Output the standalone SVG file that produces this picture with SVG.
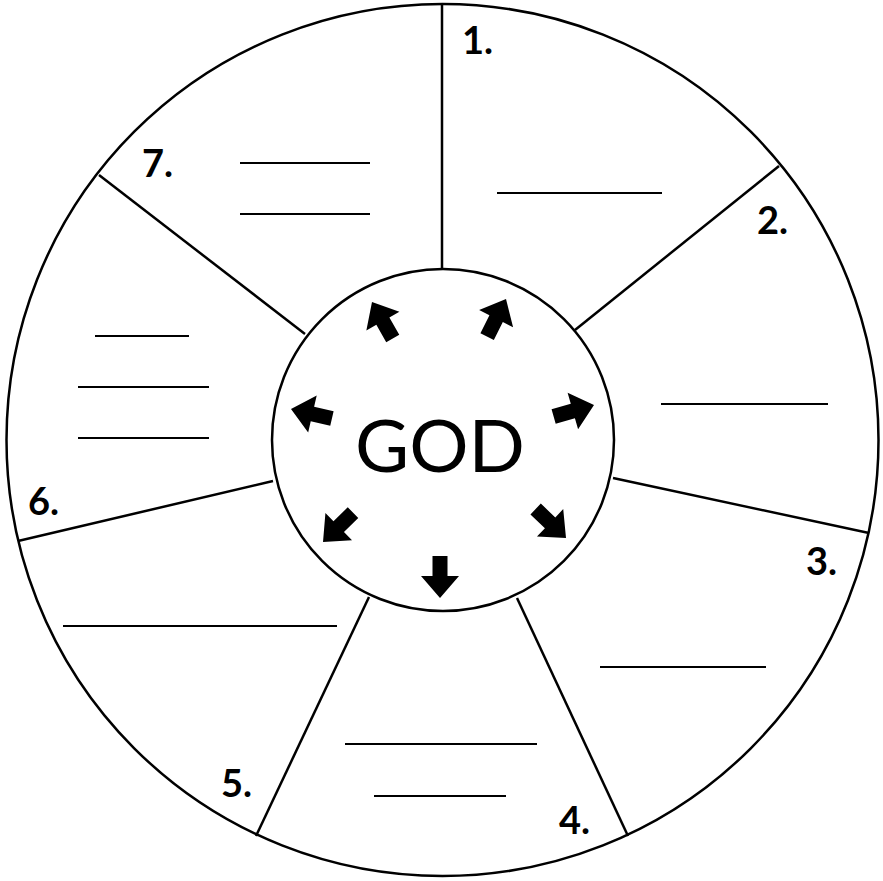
<svg xmlns="http://www.w3.org/2000/svg" width="883" height="881" viewBox="0 0 883 881">
<style>
.ln{stroke:#000;stroke-width:2.5;fill:none}
.bl{stroke:#000;stroke-width:2;fill:none}
.num{font-family:"Lato","Liberation Sans",sans-serif;font-weight:bold;font-size:38px;fill:#000}
.god{font-family:"Lato","Liberation Sans",sans-serif;font-size:72px;fill:#000}
</style>
<defs>
<path id="arr" d="M0,0 L19,22 L7.5,22 L7.5,42 L-7.5,42 L-7.5,22 L-19,22 Z" fill="#000"/>
</defs>
<rect width="883" height="881" fill="#fff"/>
<g id="connectors">
<line class="ln" x1="442" y1="4" x2="442" y2="269"/>
<line class="ln" x1="575" y1="330" x2="779" y2="166"/>
<line class="ln" x1="613" y1="478" x2="869" y2="533"/>
<line class="ln" x1="517" y1="598" x2="628" y2="836"/>
<line class="ln" x1="369" y1="597" x2="256" y2="836"/>
<line class="ln" x1="273" y1="481" x2="18" y2="541"/>
<line class="ln" x1="305" y1="334" x2="99" y2="175"/>
</g>
<g id="outer">
<circle class="ln" cx="442.5" cy="440" r="436" stroke-width="3"/>
</g>
<g id="center">
<circle class="ln" cx="443" cy="440" r="171"/>
<text class="god" x="440" y="472" text-anchor="middle" textLength="170" lengthAdjust="spacingAndGlyphs">GOD</text>
<use href="#arr" transform="translate(372,302) rotate(-29.6)"/>
<use href="#arr" transform="translate(506,299) rotate(26.7)"/>
<use href="#arr" transform="translate(594,405) rotate(74)"/>
<use href="#arr" transform="translate(291,409) rotate(-77)"/>
<use href="#arr" transform="translate(566,538) rotate(133.7)"/>
<use href="#arr" transform="translate(323,542) rotate(-134.4)"/>
<use href="#arr" transform="translate(440,598) rotate(180)"/>
</g>
<g id="seg1">
<text class="num" x="462" y="54">1.</text>
<line class="bl" x1="497" y1="193" x2="662" y2="193"/>
</g>
<g id="seg2">
<text class="num" x="757" y="234">2.</text>
<line class="bl" x1="661" y1="404" x2="828" y2="404"/>
</g>
<g id="seg3">
<text class="num" x="806" y="575">3.</text>
<line class="bl" x1="600" y1="667" x2="766" y2="667"/>
</g>
<g id="seg4">
<text class="num" x="559" y="834">4.</text>
<line class="bl" x1="345" y1="744" x2="537" y2="744"/>
<line class="bl" x1="374" y1="796" x2="506" y2="796"/>
</g>
<g id="seg5">
<text class="num" x="221" y="797">5.</text>
<line class="bl" x1="63" y1="626" x2="337" y2="626"/>
</g>
<g id="seg6">
<text class="num" x="28" y="515">6.</text>
<line class="bl" x1="95" y1="336" x2="189" y2="336"/>
<line class="bl" x1="78" y1="387" x2="209" y2="387"/>
<line class="bl" x1="78" y1="438" x2="209" y2="438"/>
</g>
<g id="seg7">
<text class="num" x="142" y="177">7.</text>
<line class="bl" x1="240" y1="163" x2="370" y2="163"/>
<line class="bl" x1="240" y1="214" x2="370" y2="214"/>
</g>
</svg>
